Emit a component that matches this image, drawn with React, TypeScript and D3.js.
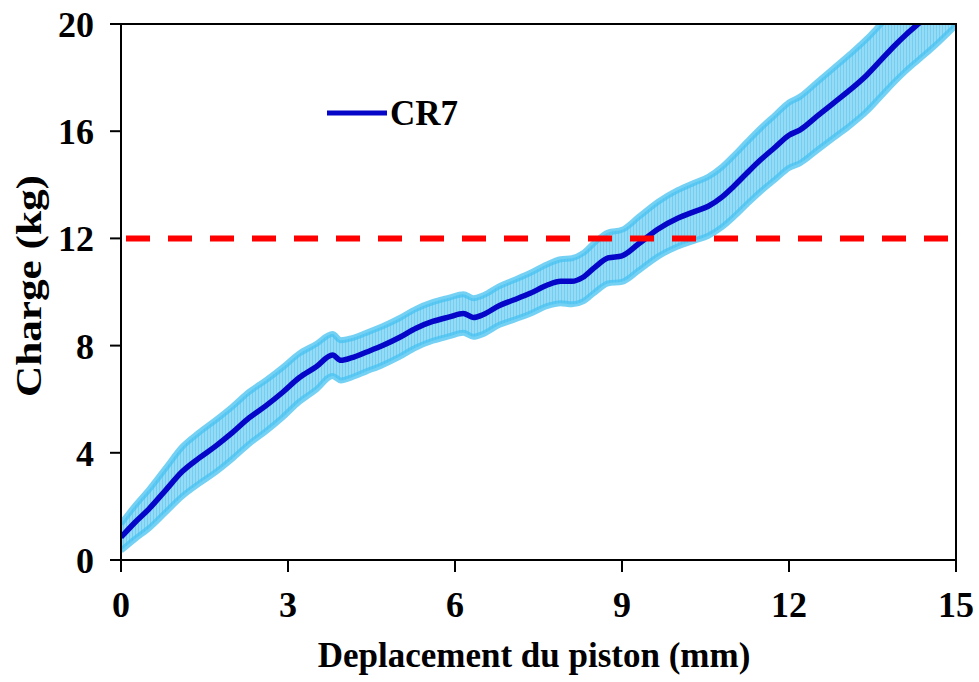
import React from "react";
import * as d3 from "d3";

const displacement = [0, 0.25, 0.5, 0.8, 1.1, 1.4, 1.7, 2.0, 2.3, 2.6, 2.9, 3.2, 3.5, 3.8, 3.95, 4.15, 4.4, 4.7, 5.0, 5.3, 5.6, 5.9, 6.15, 6.33, 6.5, 6.8, 7.05, 7.35, 7.65, 7.9, 8.1, 8.3, 8.5, 8.75, 9.0, 9.3, 9.65, 10.0, 10.3, 10.55, 10.8, 11.0, 11.25, 11.5, 11.75, 12.0, 12.2, 12.5, 12.8, 13.1, 13.4, 13.65, 13.9, 14.1, 14.32, 14.6, 15.0];
const charge = [0.85, 1.4, 1.9, 2.6, 3.3, 3.8, 4.25, 4.75, 5.3, 5.75, 6.25, 6.8, 7.2, 7.65, 7.45, 7.55, 7.75, 8.0, 8.3, 8.65, 8.9, 9.07, 9.2, 9.05, 9.15, 9.5, 9.7, 9.95, 10.25, 10.4, 10.4, 10.55, 10.9, 11.27, 11.35, 11.8, 12.35, 12.75, 13.0, 13.2, 13.55, 13.93, 14.45, 14.95, 15.4, 15.85, 16.05, 16.55, 17.05, 17.55, 18.1, 18.65, 19.2, 19.6, 20.0, 20.5, 21.3];
const errorKg = [0.5, 0.62, 0.72, 0.82, 0.92, 0.95, 0.97, 0.97, 0.97, 0.95, 0.93, 0.9, 0.85, 0.78, 0.75, 0.73, 0.72, 0.72, 0.72, 0.72, 0.72, 0.72, 0.72, 0.72, 0.72, 0.72, 0.74, 0.76, 0.78, 0.82, 0.86, 0.9, 0.93, 0.95, 0.97, 1.0, 1.02, 1.05, 1.08, 1.1, 1.12, 1.14, 1.16, 1.18, 1.2, 1.22, 1.24, 1.27, 1.3, 1.33, 1.35, 1.35, 1.35, 1.35, 1.35, 1.35, 1.35];

const xTicks = [0, 3, 6, 9, 12, 15];
const yTicks = [0, 4, 8, 12, 16, 20];
const thresholdKg = 12;
const seriesName = "CR7";
const xTitle = "Deplacement du piston (mm)";
const yTitle = "Charge (kg)";

const W = 979, H = 682;
const L = 121, R = 956, T = 24, B = 560;
const FONT = "'Liberation Serif', 'Times New Roman', serif";

export default function App() {
  const x = d3.scaleLinear().domain([0, 15]).range([L, R]);
  const y = d3.scaleLinear().domain([0, 20]).range([B, T]);
  const pts = displacement.map((d, i) => ({ x: d, y: charge[i], e: errorKg[i] }));

  const area = d3.area<any>().x(d => x(d.x)).y0(d => y(d.y - d.e)).y1(d => y(d.y + d.e)).curve(d3.curveMonotoneX);
  const upper = d3.line<any>().x(d => x(d.x)).y(d => y(d.y + d.e)).curve(d3.curveMonotoneX);
  const lower = d3.line<any>().x(d => x(d.x)).y(d => y(d.y - d.e)).curve(d3.curveMonotoneX);
  const line = d3.line<any>().x(d => x(d.x)).y(d => y(d.y)).curve(d3.curveMonotoneX);

  return (
    <svg width={W} height={H} style={{ position: "absolute", left: 0, top: 0, background: "#fff" }} fontFamily={FONT}>
      <defs>
        <clipPath id="plot"><rect x={L} y={T} width={R - L} height={B - T} /></clipPath>
        <pattern id="stripes" width={3} height={10} patternUnits="userSpaceOnUse">
          <rect width={3} height={10} fill="#96DBF6" />
          <rect width={1} height={10} fill="#74CEF2" />
        </pattern>
      </defs>
      <g clipPath="url(#plot)">
        <path d={area(pts) || ""} fill="url(#stripes)" />
        <path d={upper(pts) || ""} fill="none" stroke="#45C2F0" strokeWidth={6} strokeOpacity={0.75} />
        <path d={lower(pts) || ""} fill="none" stroke="#45C2F0" strokeWidth={6} strokeOpacity={0.75} />
        <path d={line(pts) || ""} fill="none" stroke="#0606C8" strokeWidth={5.5} strokeLinejoin="round" />
      </g>
      <line x1={x(0)} x2={x(15)} y1={y(thresholdKg)} y2={y(thresholdKg)} stroke="#FF0000" strokeWidth={6} strokeDasharray="24 18" strokeDashoffset={37} />
      <rect x={L} y={T} width={R - L} height={B - T} fill="none" stroke="#000" strokeWidth={2} />
      {yTicks.map(t => (
        <g key={"y" + t}>
          <line x1={L - 11} x2={L} y1={y(t)} y2={y(t)} stroke="#000" strokeWidth={2} />
          <text x={L - 27} y={y(t)} dy="0.36em" textAnchor="end" fontSize={36} fontWeight="bold">{t}</text>
        </g>
      ))}
      {xTicks.map(t => (
        <g key={"x" + t}>
          <line x1={x(t)} x2={x(t)} y1={B} y2={B + 12} stroke="#000" strokeWidth={2} />
          <text x={x(t)} y={617} textAnchor="middle" fontSize={36} fontWeight="bold">{t}</text>
        </g>
      ))}
      <text x={534} y={667} textAnchor="middle" fontSize={35} fontWeight="bold">{xTitle}</text>
      <text transform={`translate(41, ${286}) rotate(-90)`} textAnchor="middle" fontSize={35} fontWeight="bold" textLength={222} lengthAdjust="spacingAndGlyphs">{yTitle}</text>
      <line x1={327} x2={387} y1={113} y2={113} stroke="#0606C8" strokeWidth={5} />
      <text x={390} y={125} fontSize={35} fontWeight="bold">{seriesName}</text>
    </svg>
  );
}
